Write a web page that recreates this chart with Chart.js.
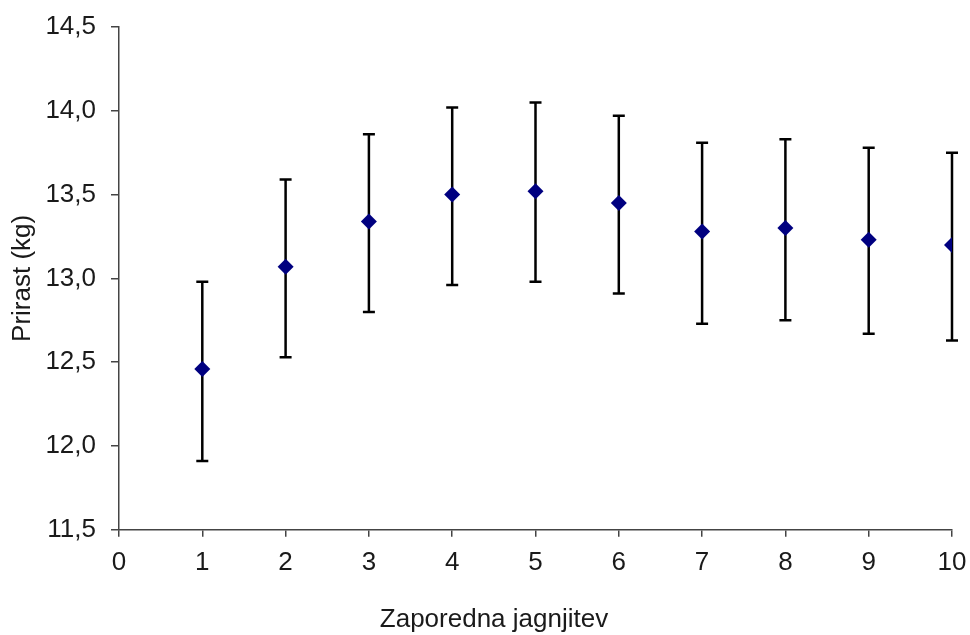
<!DOCTYPE html>
<html>
<head>
<meta charset="utf-8">
<script src="https://cdn.jsdelivr.net/npm/chart.js@4.4.1/dist/chart.umd.min.js"></script>
<style>
  body { margin: 0; background: #fff; }
  #graf { display: block; }
</style>
</head>
<body>
<canvas id="graf" width="970" height="635"></canvas>
<script>
// zaporedna jagnjitev in prirast (kg) s spodnjo/zgornjo mejo
var jagnjitev = [1, 2, 3, 4, 5, 6, 7, 8, 9, 10]
var prirast   = [12.46, 13.07, 13.34, 13.50, 13.52, 13.45, 13.28, 13.30, 13.23, 13.20]
var zgornja   = [12.98, 13.59, 13.86, 14.02, 14.05, 13.97, 13.81, 13.83, 13.78, 13.75]
var spodnja   = [11.91, 12.53, 12.80, 12.96, 12.98, 12.91, 12.73, 12.75, 12.67, 12.63]

var pisava = 'Arial, "Liberation Sans", sans-serif'

var points = []
for (var i = 0; i < jagnjitev.length; i++) {
  points.push({x: jagnjitev[i], y: prirast[i]})
}

// error bars drawn through the chart's own scales
var napake = {
  id: 'napake',
  beforeDatasetsDraw: function(chart) {
    var ctx = chart.ctx
    var xs = chart.scales.x, ys = chart.scales.y
    ctx.save()
    ctx.strokeStyle = '#000'
    ctx.lineWidth = 2.5
    for (var i = 0; i < jagnjitev.length; i++) {
      var px = xs.getPixelForValue(jagnjitev[i])
      var top = ys.getPixelForValue(zgornja[i])
      var bot = ys.getPixelForValue(spodnja[i])
      ctx.beginPath()
      ctx.moveTo(px, top); ctx.lineTo(px, bot)
      ctx.moveTo(px - 6, top); ctx.lineTo(px + 6, top)
      ctx.moveTo(px - 6, bot); ctx.lineTo(px + 6, bot)
      ctx.stroke()
    }
    ctx.restore()
  }
}

var ctx = document.getElementById('graf').getContext('2d')
var chart = new Chart(ctx, {
  type: 'scatter',
  data: {
    datasets: [{
      data: points,
      pointStyle: 'rectRot',
      pointRadius: 8,
      pointHoverRadius: 8,
      pointBackgroundColor: '#000080',
      pointBorderColor: '#000080',
      pointBorderWidth: 0,
      showLine: false
    }]
  },
  options: {
    responsive: false,
    animation: false,
    layout: { padding: { left: 36, top: 27, right: 18, bottom: 0 } },
    plugins: {
      legend: { display: false },
      tooltip: { enabled: false },
      // x axis title, centred on the whole figure like the original
      title: {
        display: true,
        position: 'bottom',
        text: 'Zaporedna jagnjitev',
        color: '#1a1a1a',
        font: { family: pisava, size: 26, weight: 'normal' },
        padding: { top: 0, bottom: 0 }
      }
    },
    scales: {
      x: {
        type: 'linear',
        min: 0, max: 10,
        ticks: {
          stepSize: 1,
          color: '#1a1a1a',
          padding: 10,
          maxRotation: 0,
          font: { family: pisava, size: 26 }
        },
        grid: { drawOnChartArea: false, drawTicks: true, tickLength: 7, color: '#444', lineWidth: 1.5 },
        border: { color: '#444', width: 1.5 },
        afterFit: function(s) {
          s.height = 74
          s.paddingLeft = 0
          s.paddingRight = 0
        }
      },
      y: {
        min: 11.5, max: 14.5,
        ticks: {
          stepSize: 0.5,
          color: '#1a1a1a',
          padding: 15,
          font: { family: pisava, size: 26 },
          callback: function(v) { return v.toFixed(1).replace('.', ',') }
        },
        grid: { drawOnChartArea: false, drawTicks: true, tickLength: 8, color: '#444', lineWidth: 1.5 },
        border: { color: '#444', width: 1.5 },
        title: {
          display: true,
          text: 'Prirast (kg)',
          color: '#1a1a1a',
          font: { family: pisava, size: 26 },
          padding: { top: -29, bottom: 0 }
        },
        afterFit: function(s) {
          s.width = 83
          s.paddingTop = 0
          s.paddingBottom = 0
        }
      }
    }
  },
  plugins: [napake]
})
</script>
</body>
</html>
